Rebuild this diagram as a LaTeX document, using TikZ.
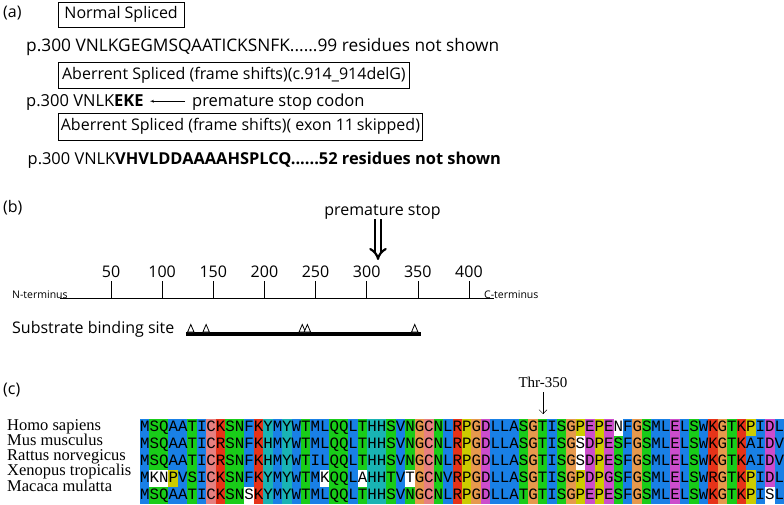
\documentclass[tikz,border=0pt]{standalone}
\usepackage{fontspec}
\setmainfont{Liberation Serif}
\newfontfamily\labfont{Open Sans}
\newfontfamily\seqfont{Liberation Mono}
\usetikzlibrary{arrows,arrows.meta}
\definecolor{clxb}{RGB}{25,128,230}
\definecolor{clxg}{RGB}{25,204,25}
\definecolor{clxr}{RGB}{230,51,25}
\definecolor{clxc}{RGB}{25,179,179}
\definecolor{clxp}{RGB}{230,128,128}
\definecolor{clxm}{RGB}{204,77,204}
\definecolor{clxy}{RGB}{204,204,0}
\definecolor{clxo}{RGB}{230,153,77}
\tikzset{
	lab/.style={font=\labfont\fontsize{16}{18}\selectfont, inner sep=0pt},
	splicebox/.style={lab, draw, line width=0.8pt, anchor=west},
	seqrow/.style={font=\seqfont\fontsize{15.78}{17}\selectfont, anchor=base west, inner sep=0pt},
	species/.style={font=\fontsize{16.5}{18}\selectfont, anchor=base west, inner sep=0pt},
	hollowarrow/.style={double, double distance=3.6pt, line width=2.2pt, -{Implies}},
}

\begin{document}
\begin{tikzpicture}[x=1pt,y=-1pt]
		\useasboundingbox (0,0) rectangle (784,505);
		% (a) splicing
		\node[lab, anchor=west] (alab) at (3,13) {(a)};
		\node[splicebox, minimum width=126.5pt, minimum height=25pt] (box1) at (57.5,14.5) {Normal Spliced};
		\node[lab, anchor=base west, font=\labfont\fontsize{17.3}{18}\selectfont] (norm) at (26,51.7) {p.300 VNLKGEGMSQAATICKSNFK......99 residues not shown};
		\node[splicebox, minimum width=351pt, minimum height=26pt] (box2) at (58,75) {Aberrent Spliced (frame shifts)(c.914\_914delG)};
		\node[lab, anchor=base west, font=\labfont\fontsize{16.5}{18}\selectfont] (fs) at (26,106.7) {p.300 VNLK\textbf{EKE}};
		\node[lab, anchor=base west, font=\labfont\fontsize{16.5}{18}\selectfont] (stopcodon) at (192,106.7) {premature stop codon};
		\draw[-latex', shorten >=6pt, shorten <=7pt] ([yshift=5.5pt]stopcodon.base west) -- ([yshift=5.5pt]fs.base east);
		\node[splicebox, minimum width=364pt, minimum height=27pt] (box3) at (58,126.5) {Aberrent Spliced (frame shifts)( exon 11\,skipped)};
		\node[lab, anchor=base west, font=\labfont\fontsize{16.4}{18}\selectfont] (skip) at (27.5,165) {p.300 VNLK\textbf{VHVLDDAAAAHSPLCQ......52 residues not shown}};

		%% (b) protein map
		\node[lab, anchor=west] (blab) at (3,208) {(b)};
		\node[lab] (stoplbl) at (382.5,212) {premature stop};
		\coordinate (stoptip) at (378,260);
		\draw[hollowarrow] (stoplbl.south -| stoptip) -- (stoptip);
		\draw (60,298) -- (494,298);
		\foreach \n in {50,100,...,400} {
			\draw ({59.9+1.0226*\n},281) -- ({59.9+1.0226*\n},298);
			\node[lab] (tick\n) at ({59.9+1.0226*\n},271.7) {\n};
		}
		\node[lab, font=\labfont\fontsize{10.5}{12}\selectfont, anchor=west] (nterm) at (12,294.3) {N-terminus};
		\node[lab, font=\labfont\fontsize{10.5}{12}\selectfont, anchor=west] (cterm) at (484,294.3) {C-terminus};
		\node[lab, anchor=base west] (subs) at (12,333.3) {Substrate binding site};
		\draw[line width=3.5pt] (186,334) -- (420.7,334);
		\foreach \n in {128,143,237,242,347}
			\draw[line width=0.8pt, fill=white] ({59.9+1.0226*\n-3.2},332) -- ++(3.2,-7.5) -- ++(3.2,7.5) -- cycle;

		%% (c) alignment
		\node[lab, anchor=west] (clab) at (3,390) {(c)};
		\foreach \c [count=\i] in {b,g,g,b,b,g,b,p,r,g,g,b,r,c,b,c,b,g,b,b,g,g,b,g,c,c,g,b,g,o,p,g,b,r,y,o,m,b,b,b,g,o,g,b,g,o,y,m,y,m,g,b,o,g,b,b,m,b,g,b,r,o,g,r,y,b,m,b}
			\fill[clx\c] ({140+9.47*(\i-1)},418.5) rectangle ++(9.6,85.5);
		\foreach \r/\i/\c in {4/2/white,4/3/white,4/4/clxy,4/20/white,4/24/white,4/29/white,5/12/white,5/67/white,1/51/white,2/47/white,3/47/white,2/65/clxb,3/65/clxb}
			\fill[\c] ({140+9.47*(\i-1)},{418.5+17.1*(\r-1)}) rectangle ++(9.47,17.1);
		\foreach \s [count=\r] in {MSQAATICKSNFKYMYWTMLQQLTHHSVNGCNLRPGDLLASGTISGPEPENFGSMLELSWKGTKPIDL,
			MSQAATICRSNFKHMYWTMLQQLTHHSVNGCNLRPGDLLASGTISGSDPESFGSMLELSWKGTKAIDV,
			MSQAATICRSNFKHMYWTILQQLTHHSVNGCNLRPGDLLASGTISGSDPESFGSMLELSWKGTKAIDV,
			MKNPVSICKSNFKYMYWTMKQQLAHHTVTGCNVRPGDLLASGTISGPDPGSFGSMLELSWRGTKPIDL,
			MSQAATICKSNSKYMYWTMLQQLTHHSVNGCNLRPGDLLATGTISGPEPESFGSMLELSWKGTKPISL}
			\node[seqrow] (seq\r) at (140,{418.5+17.1*(\r-1)+13}) {\s};
		\foreach \nm [count=\r] in {Homo sapiens,Mus musculus,Rattus norvegicus,Xenopus tropicalis,Macaca mulatta}
			\node[species] (sp\r) at (7,{430+15.25*(\r-1)}) {\nm};
		\node[font=\fontsize{15}{17}\selectfont, inner sep=0pt] (thr) at (543,382) {Thr-350};
		\coordinate (thrtip) at (543,414);
		\draw[-{Straight Barb[length=4pt]}, shorten <=5pt] (thr) -- (thrtip);
\end{tikzpicture}
\end{document}
